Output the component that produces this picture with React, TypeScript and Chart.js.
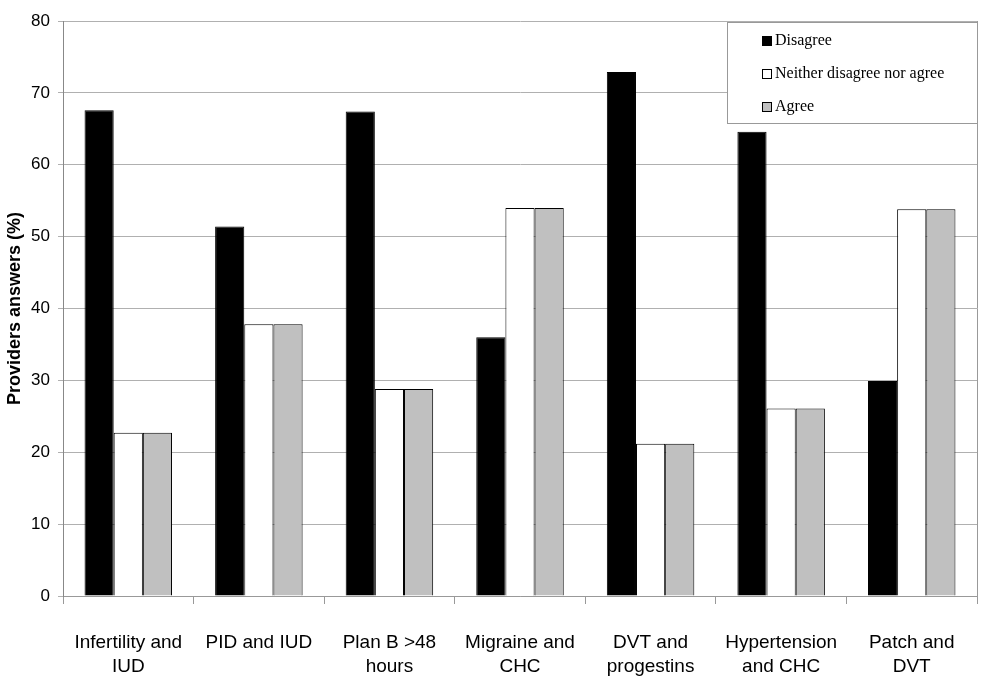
import React, { useEffect, useRef } from "react";
import { Chart, registerables } from "chart.js";

Chart.register(...registerables);

const categories: string[][] = [
  ["Infertility and", "IUD"],
  ["PID and IUD"],
  ["Plan B >48", "hours"],
  ["Migraine and", "CHC"],
  ["DVT and", "progestins"],
  ["Hypertension", "and CHC"],
  ["Patch and", "DVT"],
];

const disagree = [67.6, 51.4, 67.4, 36.0, 72.9, 64.6, 29.9];
const neither = [22.7, 37.8, 28.8, 54.0, 21.2, 26.1, 53.8];
const agree = [22.7, 37.8, 28.8, 54.0, 21.2, 26.1, 53.8];

const seriesNames = ["Disagree", "Neither disagree nor agree", "Agree"];
const seriesColors = ["#000000", "#ffffff", "#c0c0c0"];

const yTitle = "Providers answers (%)";

const plotDecor = {
  id: "plotDecor",
  afterDraw(chart: any) {
    const { ctx, chartArea } = chart;
    ctx.save();
    // right border
    ctx.strokeStyle = "#999999";
    ctx.lineWidth = 1;
    ctx.beginPath();
    ctx.moveTo(Math.round(chartArea.right) + 0.5, chartArea.top);
    ctx.lineTo(Math.round(chartArea.right) + 0.5, chartArea.bottom);
    ctx.stroke();
    // legend box
    const bx = 727.5, by = 22.5, bw = 250, bh = 101;
    ctx.fillStyle = "#ffffff";
    ctx.fillRect(bx, by, bw, bh);
    ctx.strokeStyle = "#999999";
    ctx.strokeRect(bx, by, bw, bh);
    ctx.font = "16px 'Liberation Serif', 'Times New Roman', serif";
    ctx.textBaseline = "middle";
    const rows = [41, 74, 107];
    seriesNames.forEach((name, i) => {
      const y = rows[i];
      ctx.fillStyle = seriesColors[i];
      ctx.fillRect(762, y - 5, 10, 10);
      ctx.strokeStyle = "#000000";
      ctx.strokeRect(762.5, y - 4.5, 9, 9);
      ctx.fillStyle = "#000000";
      ctx.fillText(name, 775, y);
    });
    ctx.restore();
  },
};

export default function App() {
  const ref = useRef<HTMLCanvasElement | null>(null);
  useEffect(() => {
    document.body.style.margin = "0";
    const chart = new Chart(ref.current as HTMLCanvasElement, {
      type: "bar",
      data: {
        labels: categories,
        datasets: [
          { label: seriesNames[0], data: disagree, backgroundColor: seriesColors[0], borderColor: "#000", borderWidth: 1 },
          { label: seriesNames[1], data: neither, backgroundColor: seriesColors[1], borderColor: "#000", borderWidth: 1 },
          { label: seriesNames[2], data: agree, backgroundColor: seriesColors[2], borderColor: "#000", borderWidth: 1 },
        ],
      },
      options: {
        animation: false,
        responsive: false,
        maintainAspectRatio: false,
        layout: { padding: { top: 21, right: 13, left: 0, bottom: 0 } },
        datasets: { bar: { barPercentage: 1, categoryPercentage: 0.67 } },
        plugins: {
          legend: { display: false },
          tooltip: { enabled: false },
        },
        scales: {
          x: {
            grid: {
              offset: true,
              drawOnChartArea: false,
              tickLength: 8,
              color: "#999999",
            },
            border: { color: "#999999" },
            ticks: {
              color: "#000",
              padding: 27,
              maxRotation: 0,
              autoSkip: false,
              font: { family: "'Liberation Sans', Arial, sans-serif", size: 19, lineHeight: 1.27 },
            },
            afterFit(scale: any) {
              scale.height = 94;
            },
          },
          y: {
            min: 0,
            max: 80,
            ticks: {
              stepSize: 10,
              color: "#000",
              padding: 8,
              font: { family: "'Liberation Sans', Arial, sans-serif", size: 17 },
            },
            grid: { color: "#b0b0b0", tickLength: 5 },
            border: { color: "#888888" },
            title: {
              display: true,
              text: yTitle,
              color: "#000",
              padding: { top: 4, bottom: 0 },
              font: { family: "'Liberation Sans', Arial, sans-serif", size: 18, weight: "bold" },
            },
            afterFit(scale: any) {
              scale.width = 63;
            },
          },
        },
      },
      plugins: [plotDecor],
    });
    return () => chart.destroy();
  }, []);
  return (
    <div style={{ position: "fixed", left: 0, top: 0, width: 990, height: 690, background: "#fff" }}>
      <canvas ref={ref} width={990} height={690} />
    </div>
  );
}
